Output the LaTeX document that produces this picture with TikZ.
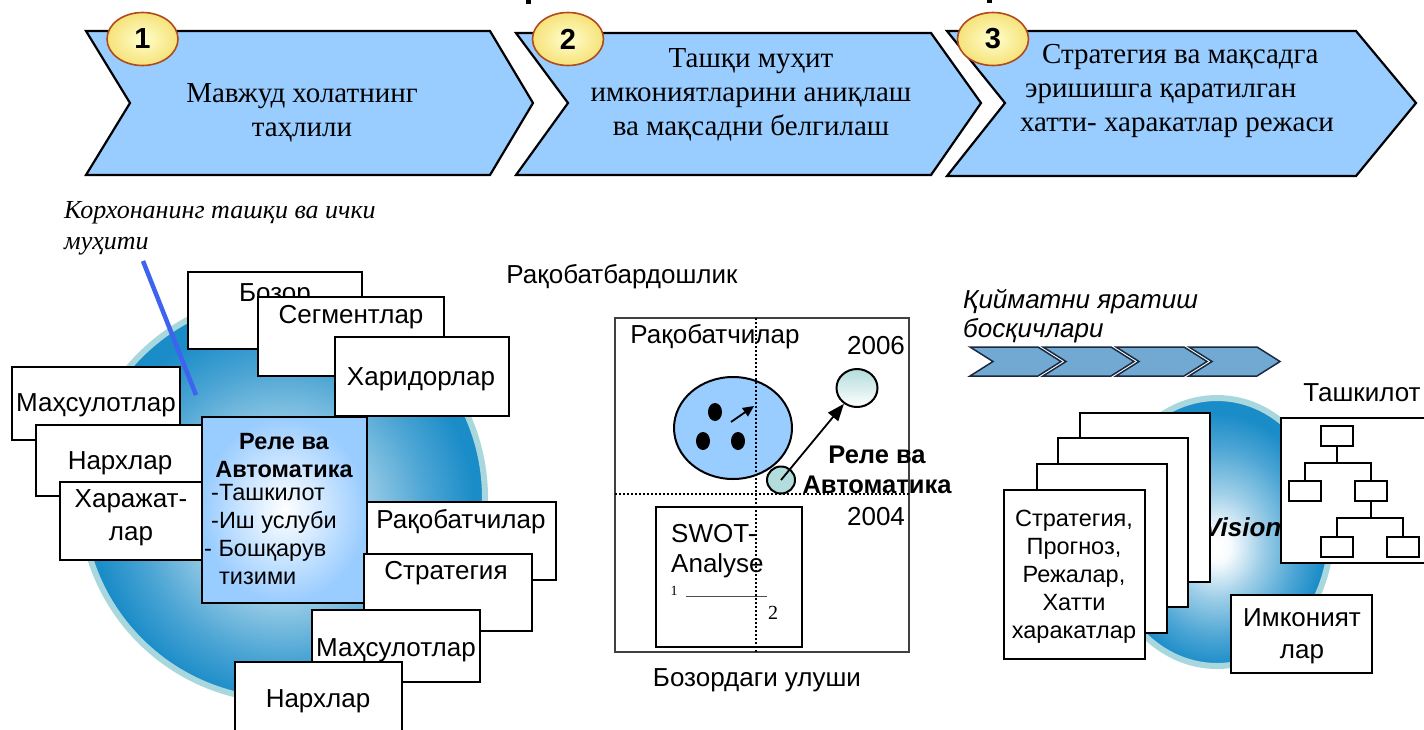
\documentclass[tikz,border=0pt]{standalone}
\usepackage{fontspec}
\setmainfont{Liberation Serif}
\setsansfont{Liberation Sans}
\usetikzlibrary{shapes.geometric,arrows.meta}

\definecolor{chevblue}{HTML}{99CCFF}
\definecolor{ringcyan}{HTML}{A8D8DE}
\definecolor{ballblue}{HTML}{1A8CC8}
\definecolor{badgeedge}{HTML}{B04A1A}
\definecolor{badgefill}{HTML}{F6E27A}
\definecolor{stepblue}{HTML}{72A9D2}
\definecolor{stepedge}{HTML}{1A2A40}
\definecolor{pointerblue}{HTML}{3D63F0}
\definecolor{paleteal}{HTML}{B3DCDC}

% soft sphere: white core fading to saturated blue at the rim
% (the path's bounding box spans -25bp..25bp of the shading)
\pgfdeclareradialshading{glow}{\pgfpoint{0bp}{-3bp}}{%
  color(0bp)=(white); color(3bp)=(white!97!ballblue);
  color(10bp)=(ballblue!42!white); color(18bp)=(ballblue!78!white);
  color(24bp)=(ballblue); color(50bp)=(ballblue)}

\tikzset{
  chev/.style={fill=chevblue, draw=black, line width=2.2pt, line join=miter},
  stagetext/.style={font=\fontsize{29}{34}\selectfont, align=center, inner sep=0pt},
  badge/.style={ellipse, draw=badgeedge, line width=1.6pt, inner color=white!80!yellow,
    outer color=badgefill, minimum width=71pt, minimum height=53pt, inner sep=0pt,
    font=\sffamily\bfseries\fontsize{29}{29}\selectfont},
  caption/.style={font=\itshape\fontsize{26}{31}\selectfont, align=left, inner sep=0pt},
  card/.style={draw, line width=2pt, fill=white, inner sep=0pt},
  lbl/.style={font=\sffamily\fontsize{26}{30}\selectfont, inner sep=0pt, align=center},
  smalllbl/.style={font=\sffamily\fontsize{23.5}{28}\selectfont, inner sep=0pt},
  boldlbl/.style={font=\sffamily\bfseries\fontsize{25.5}{30}\selectfont, inner sep=0pt, align=center},
  dotline/.style={line width=2pt, dash pattern=on 2pt off 2pt},
  bigarrow/.style={line width=1.8pt, -{Triangle[length=17pt,width=13pt]}},
  smallarrow/.style={line width=1.8pt, -{Triangle[length=11pt,width=10pt]}},
  stepshape/.style={fill=stepblue, draw=stepedge, line width=1.5pt, line join=miter},
  orgbox/.style={draw, line width=2pt, fill=white, minimum width=32pt, minimum height=20pt, inner sep=0pt},
  orgline/.style={line width=2pt},
}

\begin{document}
\begin{tikzpicture}[x=1pt,y=-1pt]
\useasboundingbox (0,0) rectangle (1424,729);
\clip (0,0) rectangle (1424,729);

% descenders of the heading line above
\fill (526,0) rectangle (531,4);
\fill (987,0) rectangle (992,3);

% ---------------- three stages ----------------
\draw[chev] (86,31) -- (490,31) -- (533,103) -- (490,175) -- (86,175) -- (130,103) -- cycle;
\draw[chev] (516,33) -- (931,33) -- (981,103) -- (931,175) -- (516,175) -- (568,103) -- cycle;
\draw[chev] (947,31) -- (1356,31) -- (1416,103) -- (1356,176) -- (947,176) -- (1005,103) -- cycle;

\node[stagetext] (st1) at (302,113) {Мавжуд холатнинг\\таҳлили};
\node[stagetext] (st2) at (751,95) {Ташқи муҳит\\имкониятларини аниқлаш\\ва мақсадни белгилаш};
\node[stagetext, align=left] (st3) at (1177,91) {\hspace*{22pt}Стратегия ва мақсадга\\\hspace*{5pt}эришишга қаратилган\\хатти- харакатлар режаси};

\node[badge] (b1) at (142.5,39) {1};
\node[badge] (b2) at (568,39) {2};
\node[badge] (b3) at (993,39) {3};

% ---------------- enterprise environment ----------------
\node[caption, anchor=west] (envcap) at (64,228) {Корхонанинг ташқи ва ички\\муҳити};

\shade[shading=glow] (283,498) circle[radius=200];
\draw[ringcyan, line width=6pt] (283,498) circle[radius=202];

\coordinate (ptrA) at (143,261);
\coordinate (ptrB) at (196,395);
\draw[pointerblue, line width=4.5pt] (ptrA) -- (ptrB);

\node[card, minimum width=174pt, minimum height=77pt] (bozor) at (275,310.5) {};
\node[lbl] (bozortxt) at (275,295) {Бозор};
\node[card, minimum width=186pt, minimum height=79pt] (segm) at (351,336.5) {};
\node[lbl] (segmtxt) at (351,317) {Сегментлар};
\node[card, minimum width=174pt, minimum height=79pt] (harid) at (422,376.5) {};
\node[lbl] (haridtxt) at (421,379) {Харидорлар};

\node[card, minimum width=168pt, minimum height=73pt] (mahsL) at (96,403.5) {};
\node[lbl] (mahsLtxt) at (96,405) {Маҳсулотлар};
\node[card, minimum width=168pt, minimum height=71pt] (narxL) at (120,460.5) {};
\node[lbl] (narxLtxt) at (120,463) {Нархлар};
\node[card, minimum width=142pt, minimum height=78pt] (xaraj) at (131,521) {};
\node[lbl, font=\sffamily\fontsize{26}{33}\selectfont] (xarajtxt) at (131,518) {Харажат-\\лар};

\node[draw, line width=2pt, inner color=white, outer color=chevblue, inner sep=0pt,
      minimum width=165pt, minimum height=186pt] (rele) at (284.5,510) {};
\node[boldlbl, font=\sffamily\bfseries\fontsize{23.5}{28}\selectfont] (reletitle) at (284,456) {Реле ва\\Автоматика};
\node[smalllbl, align=left, anchor=north west] (relelist) at (204,484)
  {\hspace*{7pt}-Ташкилот\\\hspace*{7pt}-Иш услуби\\- Бошқарув\\\hspace*{15pt}тизими};

\node[card, minimum width=189pt, minimum height=78pt] (raqob) at (461.5,541) {};
\node[lbl] (raqobtxt) at (461,522) {Рақобатчилар};
\node[card, minimum width=168pt, minimum height=77pt] (strat) at (448,592.5) {};
\node[lbl] (strattxt) at (446,573) {Стратегия};
\node[card, minimum width=168pt, minimum height=72pt] (mahsR) at (396,646) {};
\node[lbl] (mahsRtxt) at (396,650) {Маҳсулотлар};
\node[card, minimum width=167pt, minimum height=88pt] (narxB) at (318.5,706) {};
\node[lbl] (narxBtxt) at (318,701) {Нархлар};

% ---------------- competitiveness matrix ----------------
\node[lbl] (compet) at (622,277) {Рақобатбардошлик};
\draw[draw=black!75, line width=1.2pt] (615,318) rectangle (909,652);

\node[ellipse, draw, line width=2pt, fill=chevblue, minimum width=118pt, minimum height=102pt] (rivals) at (733,428) {};
\node[ellipse, fill=black, minimum width=14pt, minimum height=18pt, inner sep=0pt] (dotA) at (715,412) {};
\node[ellipse, fill=black, minimum width=14pt, minimum height=18pt, inner sep=0pt] (dotB) at (703,441) {};
\node[ellipse, fill=black, minimum width=14pt, minimum height=18pt, inner sep=0pt] (dotC) at (738,441) {};
\coordinate (moveA) at (731,422);
\coordinate (moveB) at (754,406);
\draw[smallarrow] (moveA) -- (moveB);

\node[card, minimum width=146pt, minimum height=140pt] (swot) at (729,577) {};
\node[lbl, align=left, anchor=west] (swottxt) at (671,551) {SWOT-\\Analyse};
\node[font=\fontsize{14}{14}\selectfont, inner sep=0pt] (swotone) at (674,591) {1};
\node[font=\fontsize{20}{20}\selectfont, inner sep=0pt] (swottwo) at (773,613) {2};
\draw[line width=0.8pt, black!70] (swotone.east) ++(8,5) -- ++(81,0);

\node[ellipse, draw, line width=2pt, top color=paleteal, bottom color=white,
      minimum width=41pt, minimum height=38pt, inner sep=0pt] (e2006) at (857,388) {};
\node[ellipse, draw, line width=2pt, fill=paleteal,
      minimum width=28pt, minimum height=27pt, inner sep=0pt] (e2004) at (781,480) {};
\draw[bigarrow] (e2004.center) -- (e2006);

\draw[dotline] (756,318) -- (756,652);
\draw[dotline] (615,494) -- (909,494);

\node[lbl] (rivalstxt) at (715,337) {Рақобатчилар};
\node[lbl] (y2006) at (876,346) {2006};
\node[lbl] (y2004) at (876,517) {2004};
\node[boldlbl] (relemark) at (877,470) {Реле ва\\Автоматика};
\node[lbl] (share) at (757,680) {Бозордаги улуши};

% ---------------- value creation ----------------
\node[lbl, font=\sffamily\itshape\fontsize{26}{29}\selectfont, align=left, anchor=west] (valcap) at (963,316) {Қийматни яратиш\\босқичлари};

\foreach \i in {0,1,2,3}{
  \pgfmathsetmacro{\L}{970+73*\i}
  \draw[stepshape] (\L,347) -- (\L+68,347) -- (\L+91,361.5) -- (\L+68,376) -- (\L,376) -- (\L+23,361.5) -- cycle;
}

\shade[shading=glow] (1217,532) ellipse[x radius=112, y radius=132];
\draw[ringcyan, line width=6pt] (1217,532) ellipse[x radius=114, y radius=134];
\node[font=\sffamily\bfseries\itshape\fontsize{26}{26}\selectfont, inner sep=0pt, anchor=west] (vision) at (1204,527) {Vision};

\node[card, minimum width=130pt, minimum height=169pt] (page4) at (1145,497.5) {};
\node[card, minimum width=130pt, minimum height=169pt] (page3) at (1123,522.5) {};
\node[card, minimum width=130pt, minimum height=169pt] (page2) at (1102,548.5) {};
\node[card, minimum width=141pt, minimum height=169pt] (page1) at (1074.5,574.5) {};
\node[smalllbl, align=center] (plantxt) at (1074,577) {Стратегия,\\Прогноз,\\Режалар,\\Хатти\\харакатлар};

\node[lbl] (orgtxt) at (1362,393) {Ташкилот};
\node[card, minimum width=149pt, minimum height=145pt] (orgframe) at (1355.5,490.5) {};
\node[orgbox] (otop) at (1337,436) {};
\node[orgbox] (oL) at (1304.5,491) {};
\node[orgbox] (oR) at (1370.5,491) {};
\node[orgbox] (oBL) at (1337,546.5) {};
\node[orgbox] (oBR) at (1403,546.5) {};
\coordinate (j1) at (1337,463);
\coordinate (j2) at (1370.5,518);
\draw[orgline] (otop.south) -- (j1);
\draw[orgline] (oL.north) -- (oL.north |- j1) -- (oR.north |- j1) -- (oR.north);
\draw[orgline] (oR.south) -- (j2);
\draw[orgline] (oBL.north) -- (oBL.north |- j2) -- (oBR.north |- j2) -- (oBR.north);

\node[card, minimum width=141pt, minimum height=78pt] (chances) at (1301.5,634) {};
\node[lbl, font=\sffamily\fontsize{26}{32}\selectfont] (chancestxt) at (1302,636) {Имконият\\лар};
\end{tikzpicture}
\end{document}
